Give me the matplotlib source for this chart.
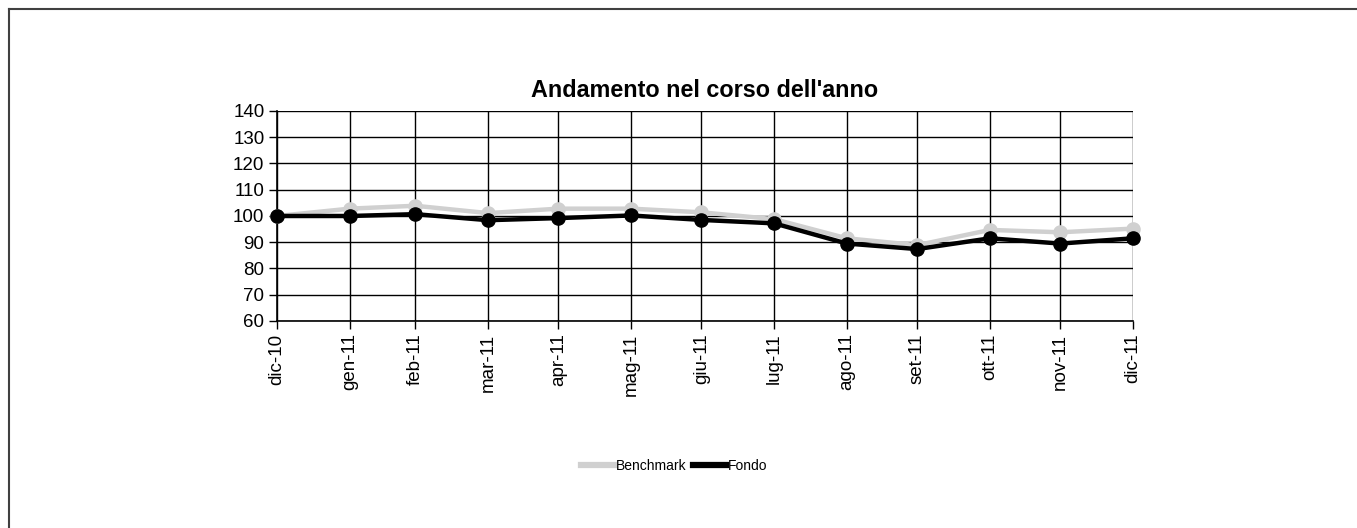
import matplotlib
matplotlib.use("Agg")
import matplotlib.pyplot as plt
import matplotlib.dates as mdates
from matplotlib.lines import Line2D
import numpy as np

plt.rcParams['font.family'] = ['Liberation Sans', 'DejaVu Sans']

dates = ["2010-12-31", "2011-01-31", "2011-02-28", "2011-03-31", "2011-04-30",
         "2011-05-31", "2011-06-30", "2011-07-31", "2011-08-31", "2011-09-30",
         "2011-10-31", "2011-11-30", "2011-12-31"]
labels = ["dic-10", "gen-11", "feb-11", "mar-11", "apr-11", "mag-11", "giu-11",
          "lug-11", "ago-11", "set-11", "ott-11", "nov-11", "dic-11"]
benchmark = [100.0, 102.8, 103.9, 101.1, 102.8, 102.8, 101.4, 98.8, 91.5, 88.9, 94.7, 93.8, 95.2]
fondo = [100.0, 100.0, 100.7, 98.4, 99.2, 100.2, 98.5, 97.2, 89.5, 87.4, 91.5, 89.5, 91.5]
yticks = [60, 70, 80, 90, 100, 110, 120, 130, 140]

x = mdates.date2num(np.array(dates, dtype='datetime64[D]'))

fig = plt.figure(figsize=(13.57, 5.28), dpi=100)
ax = fig.add_axes([277/1357, 1 - 321/528, (1133 - 277)/1357, (321 - 111)/528])

ax.plot(x, benchmark, color='#d0d0d0', lw=3.2, marker='o', ms=9.5, zorder=3,
        label='Benchmark', clip_on=False)
ax.plot(x, fondo, color='black', lw=3.2, marker='o', ms=9.5, zorder=4,
        label='Fondo', clip_on=False)

ax.set_xlim(x[0], x[-1])
ax.set_ylim(60, 140)
ax.set_yticks(yticks)
ax.set_yticklabels([str(v) for v in yticks], fontsize=13.5)
ax.set_xticks(x)
ax.set_xticklabels(labels, rotation=90, fontsize=13.5)
ax.grid(True, color='black', lw=1.0)
ax.set_axisbelow(True)
for s in ['top', 'right']:
    ax.spines[s].set_visible(False)
for s in ['left', 'bottom']:
    ax.spines[s].set_linewidth(1.2)
ax.tick_params(axis='both', direction='out', length=6, width=1.0, pad=3)

ax.set_title("Andamento nel corso dell'anno", fontsize=16.8, fontweight='bold', pad=10)

handles = [Line2D([], [], color='#d0d0d0', lw=4.5),
           Line2D([], [], color='black', lw=4.5)]
fig.legend(handles, ['Benchmark', 'Fondo'], loc='center', bbox_to_anchor=(674/1357, 1 - 466/528),
           ncol=2, frameon=False, fontsize=10, handlelength=2.4, handletextpad=0.1,
           columnspacing=0.5)

fig.add_artist(Line2D([9/1357, 9/1357], [1 - 9/528, 0], transform=fig.transFigure,
                      color='#404040', lw=1.5))
fig.add_artist(Line2D([9/1357, 1], [1 - 9/528, 1 - 9/528], transform=fig.transFigure,
                      color='#404040', lw=1.5))

fig.savefig('out.png', dpi=100, facecolor='white')
